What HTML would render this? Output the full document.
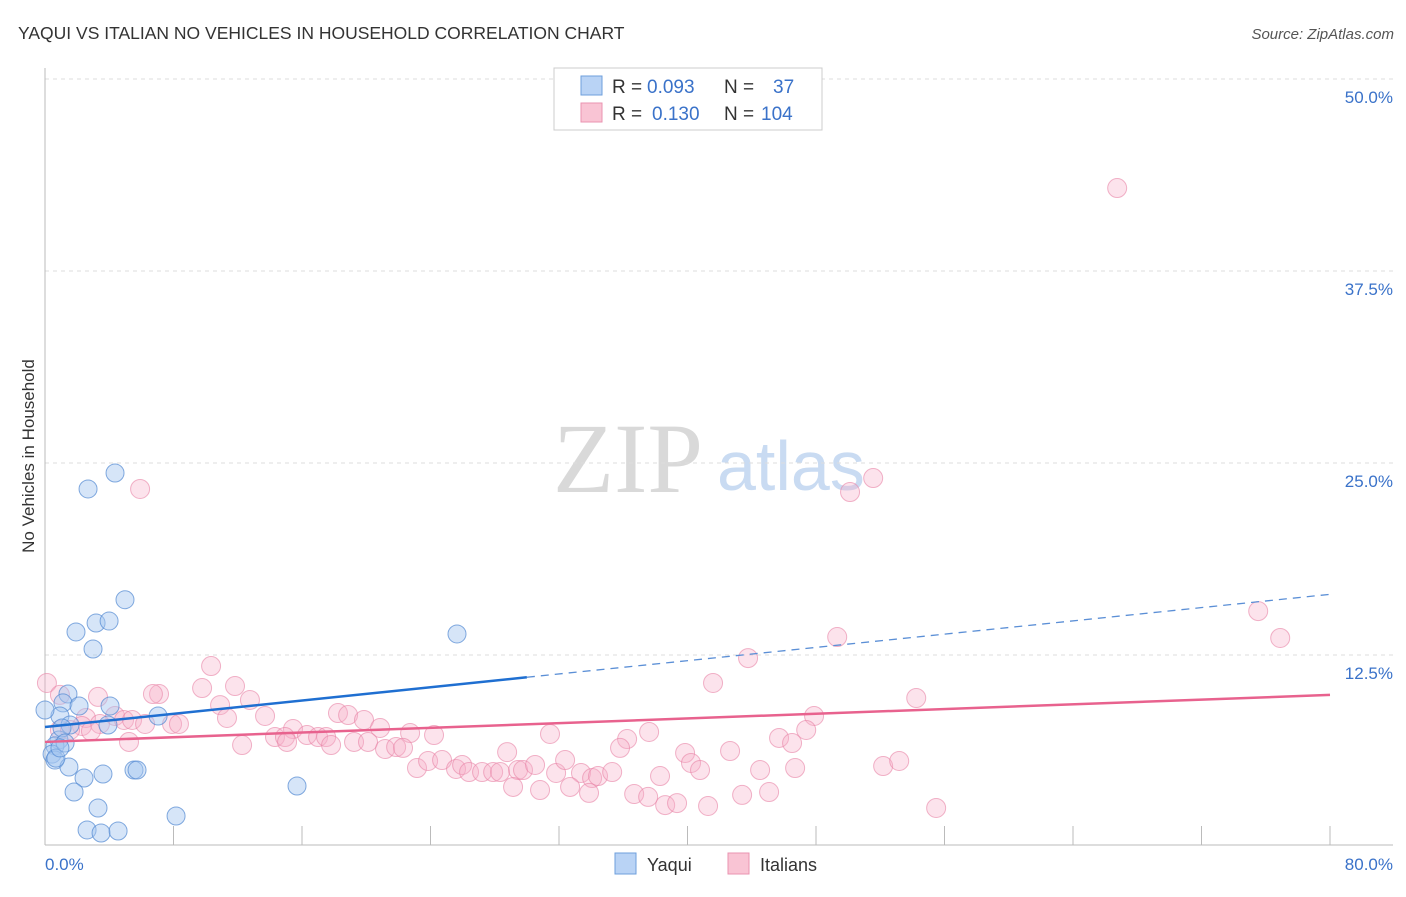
<!DOCTYPE html>
<html><head><meta charset="utf-8"><style>
body{margin:0;background:#fff;font-family:"Liberation Sans",sans-serif;}
svg text{font-family:"Liberation Sans",sans-serif;}
svg text.serif{font-family:"Liberation Serif",serif;}
</style></head><body>
<svg id="chart" width="1406" height="892">
<text x="18" y="39" font-size="17.5" fill="#333">YAQUI VS ITALIAN NO VEHICLES IN HOUSEHOLD CORRELATION CHART</text>
<text x="1394" y="39" font-size="15" fill="#555" font-style="italic" text-anchor="end">Source: ZipAtlas.com</text>
<g>
<text class="serif" x="553" y="492" font-size="100" fill="#d9d9d9">ZIP</text>
<text x="717" y="490" font-size="70" fill="#c9dbf2">atlas</text>
</g>
<g id="grid"></g>
<line x1="45" y1="68" x2="45" y2="845" stroke="#bbb"/>
<line x1="45" y1="845" x2="1393" y2="845" stroke="#bbb"/>
<g id="xticks"></g>
<g id="marks"></g>
<g id="lines"></g>
<text transform="translate(34,456) rotate(-90)" font-size="17" fill="#333" text-anchor="middle">No Vehicles in Household</text>
<text x="45" y="870" font-size="17" fill="#3a72c9">0.0%</text>
<text x="1393" y="870" font-size="17" fill="#3a72c9" text-anchor="end">80.0%</text>
<g>
<rect x="554" y="68" width="268" height="62" fill="#fff" stroke="#ccc"/>
<rect x="581" y="76" width="21" height="19" fill="#b9d3f5" stroke="#6e9fdc"/>
<rect x="581" y="103" width="21" height="19" fill="#f9c4d4" stroke="#ea93b0"/>
<text x="612" y="93" font-size="19" fill="#333">R = <tspan fill="#3a72c9" x="647">0.093</tspan><tspan x="724">N = </tspan><tspan fill="#3a72c9" x="773">37</tspan></text>
<text x="612" y="120" font-size="19" fill="#333">R = <tspan fill="#3a72c9" x="652">0.130</tspan><tspan x="724">N = </tspan><tspan fill="#3a72c9" x="761">104</tspan></text>
</g>
<g>
<rect x="615" y="853" width="21" height="21" fill="#b9d3f5" stroke="#6e9fdc"/>
<text x="647" y="871" font-size="18" fill="#333">Yaqui</text>
<rect x="728" y="853" width="21" height="21" fill="#f9c4d4" stroke="#ea93b0"/>
<text x="760" y="871" font-size="18" fill="#333">Italians</text>
</g>
</svg>
<script>
const yTicks=[12.5,25,37.5,50];
const yTickLabels=["12.5%","25.0%","37.5%","50.0%"];
const xTicks=[0,8,16,24,32,40,48,56,64,72,80];
const yaquiX=[4.36,2.68,4.98,1.93,3.18,3.99,2.99,25.65,1.43,1.12,2.12,4.05,0.93,7.04,1.56,3.92,0.87,0.62,0.44,0.62,1.49,0.68,3.61,2.43,1.81,5.54,5.73,3.30,8.16,15.69,2.62,3.49,4.55,0,1.06,1.25,0.93];
const yaquiY=[24.35,23.31,16.1,14.0,14.58,14.71,12.89,13.87,9.96,9.38,9.18,9.18,8.53,8.53,7.94,7.94,6.97,6.58,6.05,5.66,5.21,5.79,4.75,4.49,3.58,5.01,5.01,2.54,2.02,3.97,1.11,0.91,1.04,8.92,7.75,6.77,6.45];
const italX=[66.75,50.12,51.56,5.92,75.53,76.90,49.32,43.77,10.34,41.59,0.12,0.93,11.83,9.78,7.10,6.72,54.24,12.76,3.30,10.90,47.88,18.24,18.87,13.70,11.33,19.86,2.55,4.36,4.92,5.42,3.42,2.30,7.91,8.34,6.23,20.86,47.39,0.93,1.56,2.86,15.44,14.32,14.94,16.31,17.0,17.5,15.07,17.81,19.24,20.11,22.73,24.22,31.44,36.24,37.61,45.70,46.51,12.27,5.23,21.17,21.86,22.29,28.77,35.80,42.65,39.85,23.16,23.85,24.72,25.59,25.97,26.40,27.21,27.90,28.33,29.45,29.76,30.51,31.82,32.38,33.37,34.06,34.43,35.31,38.29,40.22,40.78,44.52,46.70,52.18,53.18,29.14,30.82,32.69,33.87,36.68,37.55,38.61,39.35,41.28,43.40,45.08,55.48];
const italY=[42.9,23.11,24.02,23.31,15.36,13.61,13.67,12.30,11.78,10.68,10.68,9.90,10.48,10.35,9.96,9.96,9.70,9.57,9.77,9.24,8.53,8.72,8.59,8.53,8.40,8.27,8.40,8.53,8.27,8.27,8.01,7.88,8.01,8.01,8.01,7.75,7.62,7.62,7.62,7.55,7.68,7.16,7.16,7.29,7.16,7.16,6.84,6.64,6.84,6.84,7.42,7.29,7.36,7.03,7.49,7.10,6.77,6.64,6.84,6.38,6.51,6.45,6.18,6.45,6.25,6.12,5.14,5.60,5.66,5.08,5.34,4.88,4.88,4.88,4.88,5.01,5.01,5.34,4.82,5.66,4.82,4.49,4.62,4.88,4.62,5.47,5.01,5.01,5.14,5.27,5.60,3.91,3.71,3.91,3.52,3.45,3.26,2.73,2.86,2.67,3.39,3.58,2.54];
const yaquiTrend=[7.81,16.45];
const italTrend=[6.84,9.90];
const yaquiSolidEnd=30;

const NS="http://www.w3.org/2000/svg";
const sx=v=>45+v/80*1285;
const sy=v=>847-v*15.36;
function mk(tag,attrs,parent){const e=document.createElementNS(NS,tag);for(const k in attrs)e.setAttribute(k,attrs[k]);parent.appendChild(e);return e;}
const grid=document.getElementById('grid');
yTicks.forEach((t,i)=>{
  const l=mk('line',{x1:45,x2:1393,y1:sy(t),y2:sy(t),stroke:'#ddd','stroke-dasharray':'4,4'},grid);
  
  
  const tx=mk('text',{x:1393,y:sy(t)+24,'font-size':17,fill:'#3a72c9','text-anchor':'end'},grid);
  tx.textContent=yTickLabels[i];
  
  
});
const xt=document.getElementById('xticks');
xTicks.forEach(t=>{
  const l=mk('line',{x1:sx(t),x2:sx(t),y1:826,y2:845,stroke:'#bbb'},xt);
  
  
});
const marks=document.getElementById('marks');
italX.forEach((x,i)=>{
  const c=mk('circle',{cx:sx(x),cy:sy(italY[i]),r:9.5,fill:'rgba(246,176,200,0.35)',stroke:'rgba(232,130,165,0.6)','stroke-width':1},marks);
  
  
});
yaquiX.forEach((x,i)=>{
  const c=mk('circle',{cx:sx(x),cy:sy(yaquiY[i]),r:9,fill:'rgba(165,198,240,0.45)',stroke:'rgba(80,135,210,0.7)','stroke-width':1},marks);
  
  
});
const lines=document.getElementById('lines');
const yAt=(tr,x)=>tr[0]+(tr[1]-tr[0])*x/80;
let l1=mk('line',{x1:sx(0),y1:sy(yAt(yaquiTrend,0)),x2:sx(yaquiSolidEnd),y2:sy(yAt(yaquiTrend,yaquiSolidEnd)),stroke:'#1f6fd1','stroke-width':2.5},lines);


let l2=mk('line',{x1:sx(yaquiSolidEnd),y1:sy(yAt(yaquiTrend,yaquiSolidEnd)),x2:sx(80),y2:sy(yAt(yaquiTrend,80)),stroke:'#5b8fd6','stroke-width':1.3,'stroke-dasharray':'8,6'},lines);


let l3=mk('line',{x1:sx(0),y1:sy(italTrend[0]),x2:sx(80),y2:sy(italTrend[1]),stroke:'#e8628e','stroke-width':2.5},lines);


</script>
</body></html>
